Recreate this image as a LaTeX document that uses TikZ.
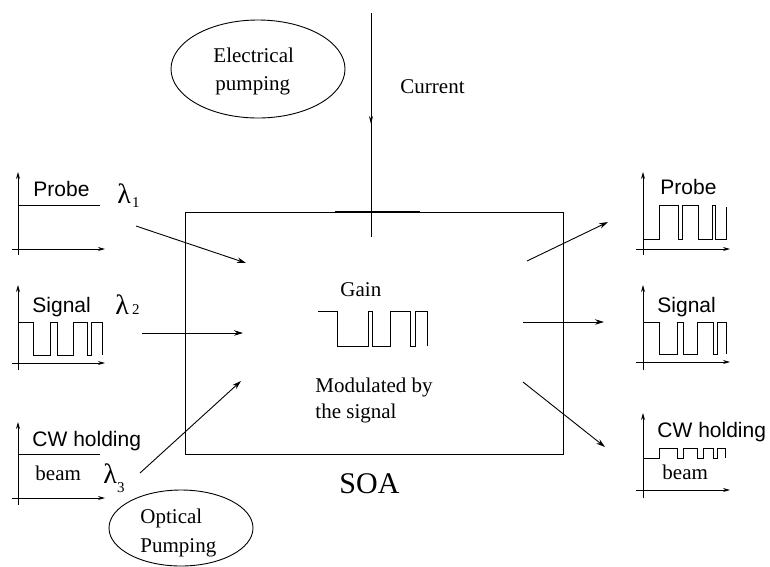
\documentclass[tikz,border=0pt]{standalone}
\usepackage{fontspec}
\setmainfont{Liberation Serif}
\setsansfont{Liberation Sans}
\usetikzlibrary{arrows.meta,shapes.geometric}
\begin{document}
\begin{tikzpicture}[x=1pt,y=-1pt,
  line width=0.9pt,
  sertxt/.style={inner sep=0pt,anchor=base west,font=\fontsize{21}{21}\selectfont},
  santxt/.style={inner sep=0pt,anchor=base west,font=\sffamily\fontsize{21}{21}\selectfont},
  lam/.style={inner sep=0pt,anchor=base west,font=\fontsize{28}{28}\selectfont},
  beamarrow/.style={-{Stealth[length=9pt,width=5.5pt]}},
  axis/.style={-{Stealth[length=7pt,width=4pt]},line width=0.8pt},
  wave/.style={line width=0.8pt},
  oval/.style={draw,ellipse,inner sep=0pt}]
\useasboundingbox (0,0) rectangle (770,566);

% SOA box
\node[draw,rectangle,minimum width=378pt,minimum height=242pt,inner sep=0pt,outer sep=0pt] (soa) at (374,333) {};
\draw[line width=1.4pt] (335,212) -- (420,212);
\node[inner sep=0pt,anchor=base west,font=\fontsize{30}{30}\selectfont] (soalbl) at (339,493) {SOA};

% current
\coordinate (ctop) at (371,13);
\coordinate (cmid) at (371,124);
\coordinate (cbot) at (371,237);
\draw (ctop) -- (cbot);
\draw[-{Stealth[length=8pt,width=4pt]}] (ctop) -- (cmid);
\node[sertxt] (cur) at (400,93) {Current};

% ellipses
\node[oval,minimum width=174pt,minimum height=98pt] (ep) at (258,69) {};
\node[sertxt] (ep1) at (213,62) {Electrical};
\node[sertxt] (ep2) at (215,90) {pumping};
\node[oval,minimum width=144pt,minimum height=76pt] (op) at (181,528) {};
\node[sertxt] (op1) at (140,523) {Optical};
\node[sertxt] (op2) at (140,552) {Pumping};

% gain
\node[sertxt] (gain) at (340,296) {Gain};
\draw[wave] (318,311) -- (337,311) -- (337,346) -- (368,346) -- (368,311) -- (372,311) -- (372,346) -- (390,346) -- (390,311) -- (410,311) -- (410,346) -- (415,346) -- (415,311) -- (427,311) -- (427,346);
\node[sertxt] (mod1) at (315,392) {Modulated by};
\node[sertxt] (mod2) at (315,418) {the signal};

% left graphs
% probe
\draw[axis] (18,255) -- (18,172);
\draw[axis] (12,249) -- (105,249);
\draw[wave] (18,205) -- (100,205);
\node[santxt] (pl) at (33,196) {Probe};
\node[lam] (l1) at (117,203) {λ\hspace{1pt}\raisebox{-4pt}{\fontsize{15}{15}\selectfont 1}};
% signal
\draw[axis] (18,370) -- (18,285);
\draw[axis] (12,363) -- (105,363);
\draw[wave] (18,322) -- (33,322) -- (33,355) -- (50,355) -- (50,322) -- (57,322) -- (57,355) -- (73,355) -- (73,322) -- (87,322) -- (87,355) -- (91,355) -- (91,322) -- (102,322) -- (102,355);
\node[santxt] (sl) at (32,312) {Signal};
\node[lam] (l2) at (115,314) {λ\hspace{3pt}{\fontsize{15}{15}\selectfont 2}};
% cw
\draw[axis] (18,505) -- (18,422);
\draw[axis] (12,498) -- (105,498);
\draw[wave] (18,454) -- (100,454);
\node[santxt] (cwl) at (32,446) {CW holding};
\node[sertxt] (bl) at (35,480) {beam};
\node[lam] (l3) at (103,483) {λ\raisebox{-9pt}{\fontsize{15}{15}\selectfont 3}};

% input arrows
\coordinate (a1s) at (136,226); \coordinate (a1e) at (246,263);
\coordinate (a2s) at (142,333); \coordinate (a2e) at (243,333);
\coordinate (a3s) at (140,473); \coordinate (a3e) at (241,381);
\draw[beamarrow] (a1s) -- (a1e);
\draw[beamarrow] (a2s) -- (a2e);
\draw[beamarrow] (a3s) -- (a3e);

% output arrows
\coordinate (b1s) at (527,261); \coordinate (b1e) at (608,222);
\coordinate (b2s) at (523,322); \coordinate (b2e) at (604,322);
\coordinate (b3s) at (523,382); \coordinate (b3e) at (605,447);
\draw[beamarrow] (b1s) -- (b1e);
\draw[beamarrow] (b2s) -- (b2e);
\draw[beamarrow] (b3s) -- (b3e);

% right graphs
% probe
\draw[axis] (643,255) -- (643,172);
\draw[axis] (636,249) -- (730,249);
\draw[wave] (643,239) -- (659,239) -- (659,205) -- (678,205) -- (678,239) -- (682,239) -- (682,205) -- (698,205) -- (698,239) -- (712,239) -- (712,205) -- (715,205) -- (715,239) -- (726,239) -- (726,207);
\node[santxt] (pr) at (660,194) {Probe};
% signal
\draw[axis] (643,370) -- (643,285);
\draw[axis] (636,362) -- (730,362);
\draw[wave] (643,322) -- (659,322) -- (659,354) -- (677,354) -- (677,322) -- (683,322) -- (683,354) -- (697,354) -- (697,322) -- (713,322) -- (713,354) -- (717,354) -- (717,322) -- (726,322) -- (726,354);
\node[santxt] (sr) at (657,312) {Signal};
% cw
\draw[axis] (643,498) -- (643,413);
\draw[axis] (636,490) -- (730,490);
\draw[wave] (643,458) -- (659,458) -- (659,448) -- (677,448) -- (677,458) -- (683,458) -- (683,448) -- (697,448) -- (697,458) -- (703,458) -- (703,448) -- (713,448) -- (713,458) -- (717,458) -- (717,448) -- (725,448) -- (725,458);
\node[santxt] (cwr) at (657,437) {CW holding};
\node[sertxt] (br) at (662,479) {beam};
\end{tikzpicture}
\end{document}
